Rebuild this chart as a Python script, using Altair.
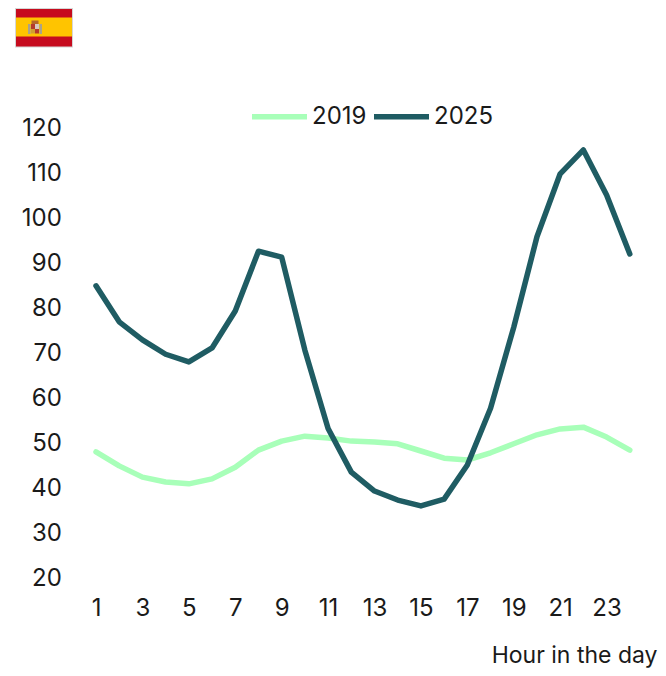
import altair as alt
import pandas as pd

hours = list(range(1, 25))
y2019 = [47.8, 44.7, 42.2, 41.1, 40.7, 41.8, 44.4, 48.2, 50.2, 51.3, 50.9, 50.2,
         50.0, 49.6, 48.0, 46.4, 46.0, 47.6, 49.6, 51.6, 52.9, 53.3, 51.1, 48.2]
y2025 = [84.7, 76.7, 72.7, 69.5, 67.8, 70.9, 79.1, 92.4, 91.1, 70.4, 53.0, 43.3,
         39.1, 37.1, 35.8, 37.3, 44.9, 57.5, 75.5, 95.6, 109.6, 114.9, 104.9, 91.8]
x_ticks = list(range(1, 24, 2))
y_ticks = list(range(20, 121, 10))

FONT = "Inter"
FS = 24
W, H = 557, 450
OX, OY = 84.4, 127  # plot origin on the page

df = pd.DataFrame(
    [{"hour": h, "value": v, "year": "2019"} for h, v in zip(hours, y2019)]
    + [{"hour": h, "value": v, "year": "2025"} for h, v in zip(hours, y2025)]
)

lines = alt.Chart(df).mark_line(strokeWidth=5.5, strokeCap="round", strokeJoin="round", clip=False).encode(
    x=alt.X("hour:Q", scale=alt.Scale(domain=[0.5, 24.5], nice=False, zero=False),
            axis=alt.Axis(values=x_ticks, title=None, grid=False, domain=False, ticks=False,
                          labelFont=FONT, labelFontSize=FS, labelColor="#1a1a1a",
                          labelPadding=19, labelOverlap=False, format="d")),
    y=alt.Y("value:Q", scale=alt.Scale(domain=[20, 120], nice=False, zero=False),
            axis=alt.Axis(values=y_ticks, title=None, grid=False, domain=False, ticks=False,
                          labelFont=FONT, labelFontSize=FS, labelColor="#1a1a1a",
                          labelPadding=23, labelOffset=1, labelOverlap=False, format="d")),
    color=alt.Color("year:N", scale=alt.Scale(domain=["2019", "2025"], range=["#A8FFB9", "#1F5C63"]),
                    legend=alt.Legend(orient="none", legendX=249 - OX, legendY=86 - OY, direction="horizontal",
                                      title=None, symbolType="stroke", symbolSize=3025, symbolStrokeWidth=5.5,
                                      labelFont=FONT, labelFontSize=FS, labelColor="#1a1a1a",
                                      labelOffset=2, columnPadding=-4, columns=2)),
    order=alt.Order("year:N"),
)


def box(x0, x1, y0, y1, color):
    return alt.Chart(pd.DataFrame({"k": [0]})).mark_rect(color=color).encode(
        x=alt.value(x0 - OX), x2=alt.value(x1 - OX),
        y=alt.value(y0 - OY), y2=alt.value(y1 - OY))


flag = [
    box(15, 73, 8, 47.5, "#D6D6D6"),
    box(16, 72, 9, 46.5, "#C60B1E"),
    box(16, 72, 17.5, 36.5, "#FFC400"),
    box(28, 30.5, 24, 34, "#A9A28C"),
    box(39.5, 42, 24, 34, "#A9A28C"),
    box(31.5, 38.5, 20.5, 24, "#B5672A"),
    box(31, 35, 24, 29, "#B5392B"),
    box(35, 39, 24, 29, "#D8C8C0"),
    box(31, 35, 29, 33.5, "#D0A030"),
    box(35, 39, 29, 33.5, "#B5392B"),
]

xtitle = alt.Chart(pd.DataFrame({"t": ["Hour in the day"]})).mark_text(
    font=FONT, fontSize=23, align="right", baseline="alphabetic", color="#1a1a1a"
).encode(x=alt.value(657.5 - OX), y=alt.value(663 - OY), text="t:N")

chart = alt.layer(lines, *flag, xtitle).properties(
    width=W, height=H,
    padding={"left": OX - 8, "top": OY - 8, "right": 650 - (OX - 8) - W, "bottom": 660 - (OY - 8) - H},
    autosize=alt.AutoSizeParams(type="none"),
).configure_view(stroke=None)

chart.save("out.html", embed_options={"renderer": "svg", "actions": False})
